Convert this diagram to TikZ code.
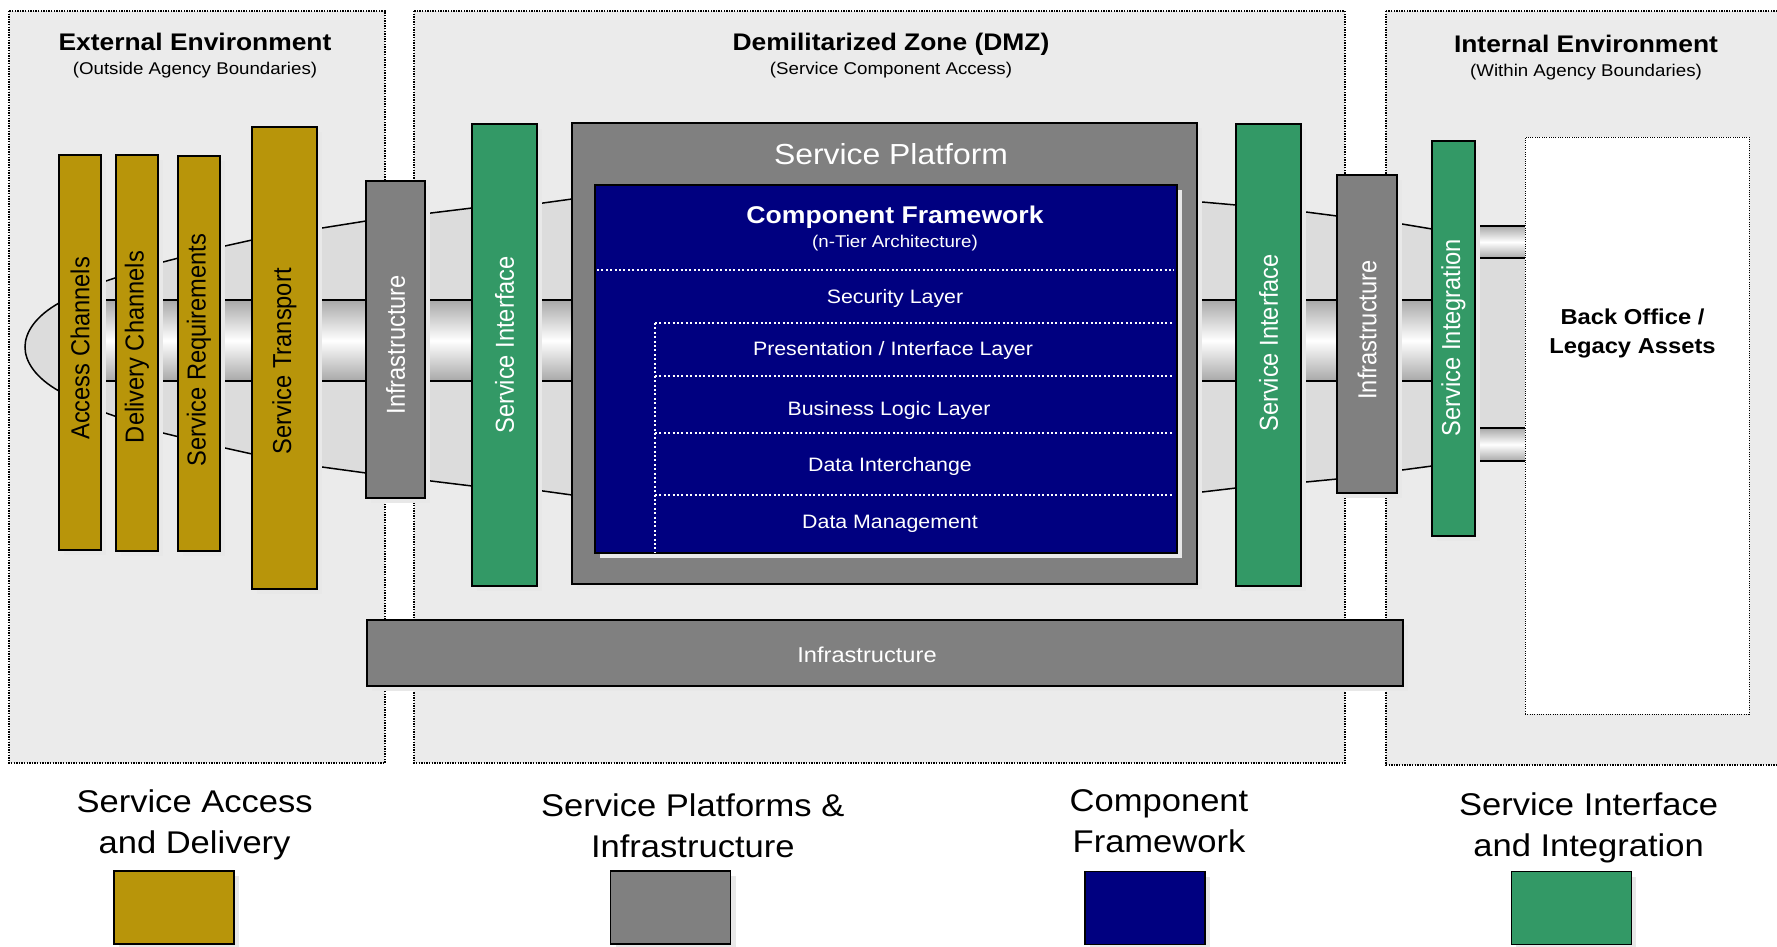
\documentclass[tikz,border=0pt]{standalone}
\usepackage{fontspec}
\setmainfont{Liberation Sans}[FakeStretch=1.1]
\newfontfamily\rotfont{Liberation Sans}[FakeStretch=0.91]
\usetikzlibrary{shadows}
\definecolor{gold}{RGB}{184,149,10}
\definecolor{midgray}{RGB}{128,128,128}
\definecolor{navyb}{RGB}{0,0,128}
\definecolor{sgreen}{RGB}{51,153,102}
\definecolor{lensgray}{RGB}{220,220,220}
\definecolor{zonegray}{RGB}{235,235,235}
\definecolor{shadgray}{RGB}{232,232,232}
\definecolor{tubegray}{RGB}{168,168,168}
\newcommand\fsz[2]{\fontsize{#1}{#2}\selectfont}
\newcommand\vtext[1]{\rotatebox{90}{#1}}
\begin{document}
\begin{tikzpicture}[x=1pt,y=-1pt,
  box/.style={draw=black, line width=1.6pt, inner sep=0pt, outer sep=0pt,
    drop shadow={shadow xshift=5pt, shadow yshift=-5pt, fill=shadgray, opacity=1}},
  goldbar/.style={box, fill=gold},
  graybar/.style={box, fill=midgray},
  greenbar/.style={box, fill=sgreen},
  navybar/.style={box, fill=navyb},
  zonebox/.style={fill=zonegray, draw=black, line width=1.4pt, dash pattern=on 1.4pt off 1.2pt},
  vlabel/.style={inner sep=0pt, font=\rotfont\fsz{26}{30}},
  wlabel/.style={vlabel, text=white},
  ttl/.style={inner sep=0pt, font=\bfseries\fsz{24}{28}},
  subttl/.style={inner sep=0pt, font=\fsz{17}{20}},
  layer/.style={inner sep=0pt, text=white, font=\fsz{19.4}{23}},
  legendtext/.style={inner sep=0pt, align=center, font=\fsz{31.4}{41}},
  tube/.style={top color=tubegray, bottom color=tubegray, middle color=white},
  wdots/.style={draw=white, line width=2pt, dash pattern=on 2pt off 2.4pt},
  outline/.style={draw=black, line width=1.5pt},
]
\useasboundingbox (0,0) rectangle (1777,946);
\fill[white] (0,0) rectangle (1777,946);

% zones
\begin{scope}
\clip (0,0) rectangle (1777,946);
\path[zonebox] (9,11) rectangle (385,763);
\path[zonebox] (414,11) rectangle (1345,763);
\path[zonebox] (1386,11) rectangle (1800,765);
\end{scope}

\node[ttl] (t1) at (195,42) {External Environment};
\node[subttl] (s1) at (195,70.5) {(Outside Agency Boundaries)};
\node[ttl] (t2) at (891,44.5) {Demilitarized Zone (DMZ)};
\node[subttl] (s2) at (891,70.5) {(Service Component Access)};
\node[ttl] (t3) at (1586,44) {Internal Environment};
\node[subttl] (s3) at (1586,72.5) {(Within Agency Boundaries)};

% lens shape
\fill[lensgray] (59,303) -- (106,281) -- (163,262) -- (225,246) -- (252,240) -- (322,228)
  -- (366,221) -- (431,213) -- (472,208) -- (543,203) -- (572,199) -- (1202,202)
  -- (1236,205) -- (1306,212) -- (1337,216) -- (1402,224) -- (1432,229) -- (1480,226)
  -- (1525,226) -- (1525,461) -- (1480,461) -- (1432,466) -- (1402,470) -- (1337,479)
  -- (1306,482) -- (1236,488) -- (1202,492) -- (572,495) -- (543,491) -- (472,486)
  -- (431,481) -- (366,473) -- (322,467) -- (252,454) -- (225,448) -- (163,433)
  -- (106,413) -- (59,391) .. controls (36,378) and (25,362) .. (25,347)
  .. controls (25,332) and (36,316) .. (59,303) -- cycle;

% tubes
\shade[tube] (80,300) rectangle (1440,381);
\draw[outline] (80,300) -- (1440,300) (80,381) -- (1440,381);
\shade[tube] (1475,226) rectangle (1525,258);
\draw[outline] (1475,226) -- (1525,226) (1475,258) -- (1525,258);
\shade[tube] (1475,428) rectangle (1525,461);
\draw[outline] (1475,428) -- (1525,428) (1475,461) -- (1525,461);

% lens outline
\draw[outline] (1440,230) -- (1432,229) -- (1402,224) -- (1337,216) -- (1306,212)
  -- (1236,205) -- (1202,202) -- (572,199) -- (543,203) -- (472,208) -- (431,213)
  -- (366,221) -- (322,228) -- (252,240) -- (225,246) -- (163,262) -- (106,281)
  -- (59,303) .. controls (36,316) and (25,332) .. (25,347)
  .. controls (25,362) and (36,378) .. (59,391) -- (106,413) -- (163,433)
  -- (225,448) -- (252,454) -- (322,467) -- (366,473) -- (431,481) -- (472,486)
  -- (543,491) -- (572,495) -- (1202,492) -- (1236,488) -- (1306,482) -- (1337,479)
  -- (1402,470) -- (1432,466) -- (1440,465);

% service access & delivery bars
\node[goldbar, minimum width=42, minimum height=395] (ac) at (80,352.5) {};
\node[goldbar, minimum width=42, minimum height=396] (dc) at (137,353) {};
\node[goldbar, minimum width=42, minimum height=395] (sr) at (199,353.5) {};
\node[goldbar, minimum width=65, minimum height=462] (st) at (284.5,358) {};
\node[vlabel] (acl) at (80,348.3) {\vtext{Access Channels}};
\node[vlabel] (dcl) at (137,347) {\vtext{Delivery Channels}};
\node[vlabel] (srl) at (199,350) {\vtext{Service Requirements}};
\node[vlabel] (stl) at (284.5,361.3) {\vtext{Service Transport}};

% infrastructure & interfaces
\node[graybar, minimum width=59, minimum height=317] (il) at (395.5,339.5) {};
\node[wlabel] (ill) at (395.5,344.7) {\vtext{Infrastructure}};
\node[greenbar, minimum width=65, minimum height=462] (sil) at (504.5,355) {};
\node[wlabel] (sill) at (504.5,345) {\vtext{Service Interface}};

\node[greenbar, minimum width=65, minimum height=462] (sir) at (1268.5,355) {};
\node[wlabel] (sirl) at (1268.5,343) {\vtext{Service Interface}};
\node[graybar, minimum width=60, minimum height=318] (ir) at (1367,334) {};
\node[wlabel] (irl) at (1367,330) {\vtext{Infrastructure}};
\node[greenbar, minimum width=43, minimum height=395] (sint) at (1453.5,338.5) {};
\node[wlabel] (sintl) at (1453.5,337.5) {\vtext{Service Integration}};

% service platform
\node[graybar, minimum width=625, minimum height=461] (sp) at (884.5,353.5) {};
\node[inner sep=0pt, text=white, font=\fsz{29}{34}] (spl) at (891,154) {Service Platform};
\node[navybar, minimum width=582, minimum height=368] (cf) at (886,369) {};
\node[inner sep=0pt, text=white, font=\bfseries\fsz{24.2}{28}] (cft) at (895,217) {Component Framework};
\node[inner sep=0pt, text=white, font=\fsz{17}{20}] (cfs) at (895,243.5) {(n-Tier Architecture)};
\draw[wdots] (597,270) -- (1174,270);
\draw[wdots] (655,323) -- (1174,323);
\draw[wdots] (655,376) -- (1174,376);
\draw[wdots] (655,433) -- (1174,433);
\draw[wdots] (655,495) -- (1174,495);
\draw[wdots] (655,323) -- (655,552);
\node[layer] (l1) at (895,298.5) {Security Layer};
\node[layer] (l2) at (893,350) {Presentation / Interface Layer};
\node[layer] (l3) at (889,410) {Business Logic Layer};
\node[layer] (l4) at (890,466.5) {Data Interchange};
\node[layer] (l5) at (890,523.5) {Data Management};

% bottom infrastructure
\node[graybar, minimum width=1036, minimum height=66] (ib) at (885,653) {};
\node[inner sep=0pt, text=white, font=\fsz{21.5}{25}] (ibl) at (867,655) {Infrastructure};

% back office
\node[draw=black, fill=white, line width=1pt, dash pattern=on 1pt off 1.3pt,
  minimum width=224, minimum height=577, inner sep=0pt] (bo) at (1637,425.5) {};
\node[inner sep=0pt, align=center, font=\bfseries\fsz{21.6}{29}] (bol) at (1632.5,333.7) {Back Office /\\Legacy Assets};

% legend
\node[legendtext] (lt1) at (194.6,825) {Service Access\\and Delivery};
\node[legendtext] (lt2) at (692.8,825.5) {Service Platforms \&\\Infrastructure};
\node[legendtext] (lt3) at (1159,821) {Component\\Framework};
\node[legendtext] (lt4) at (1588.6,827.5) {Service Interface\\and Integration};
\node[goldbar, minimum width=120, minimum height=73] (lg1) at (174,907.5) {};
\node[graybar, minimum width=120, minimum height=73] (lg2) at (670.5,907.5) {};
\node[navybar, minimum width=120, minimum height=73] (lg3) at (1144.7,908) {};
\node[greenbar, minimum width=120, minimum height=73] (lg4) at (1571.3,908) {};
\end{tikzpicture}
\end{document}
